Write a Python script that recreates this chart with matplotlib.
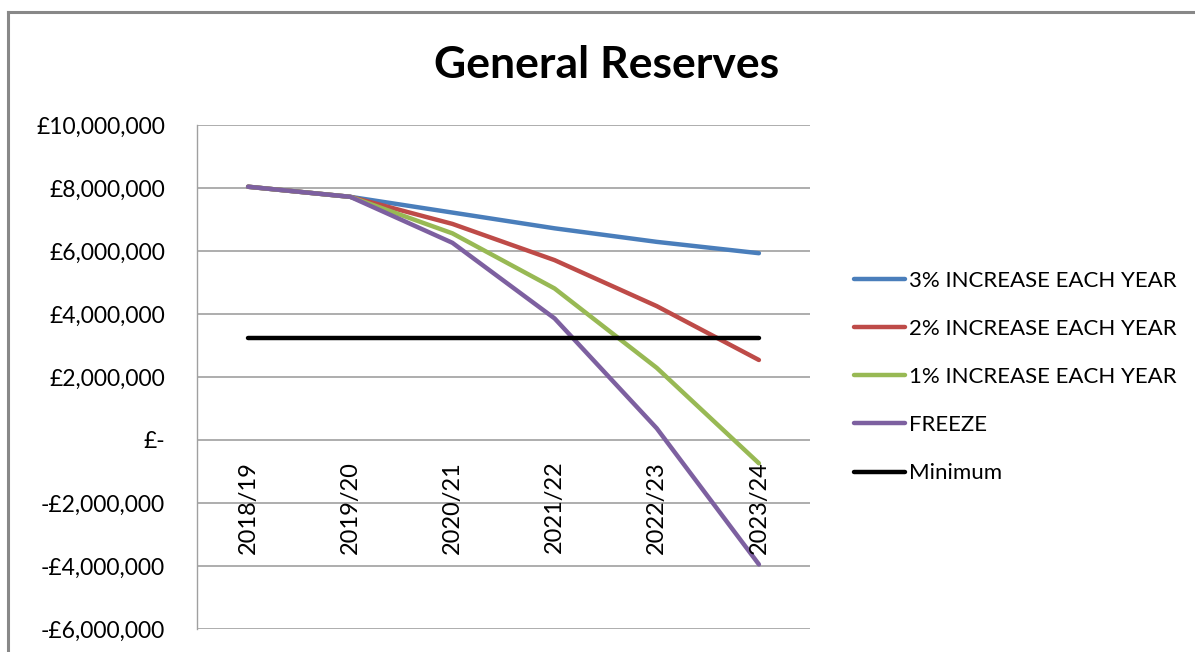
import matplotlib.pyplot as plt
from matplotlib.lines import Line2D
from matplotlib.ticker import FuncFormatter

plt.rcParams['font.family'] = ['Lato', 'DejaVu Sans']

# -------------------------------
# Data
# -------------------------------
years = ["2018/19", "2019/20", "2020/21", "2021/22", "2022/23", "2023/24"]
inc_3pct = [8040000, 7720000, 7220000, 6720000, 6290000, 5930000]
inc_2pct = [8040000, 7720000, 6860000, 5710000, 4250000, 2540000]
inc_1pct = [8040000, 7720000, 6560000, 4810000, 2290000, -740000]
freeze = [8040000, 7720000, 6260000, 3860000, 370000, -3950000]
minimum = [3250000] * 6

series_names = ["3% INCREASE EACH YEAR", "2% INCREASE EACH YEAR",
                "1% INCREASE EACH YEAR", "FREEZE", "Minimum"]
colours = ["#4a7ebb", "#be4b48", "#98b954", "#7d60a0", "#000000"]
y_ticks = [-6000000, -4000000, -2000000, 0, 2000000, 4000000, 6000000, 8000000, 10000000]


def pound(v, pos=None):
    if v == 0:
        return "£-"
    sign = "-" if v < 0 else ""
    return f"{sign}£{abs(v):,.0f}"


fig = plt.figure(figsize=(11.95, 6.52), dpi=100)
ax = fig.add_axes([197/1195, 1-629/652, 613/1195, 504/652])

xs = range(len(years))
for vals, name, c in zip([inc_3pct, inc_2pct, inc_1pct, freeze, minimum], series_names, colours):
    ax.plot(xs, vals, color=c, lw=3.2, label=name, solid_capstyle='round')

ax.set_xlim(-0.5, len(years) - 0.5)
ax.set_ylim(y_ticks[0], y_ticks[-1])
ax.set_yticks(y_ticks)
ax.yaxis.set_major_formatter(FuncFormatter(pound))
ax.tick_params(axis='y', length=0, labelsize=16.5, pad=23)
ax.set_xticks([])
ax.grid(axis='y', color='#a0a0a0', lw=1.2)
ax.set_axisbelow(True)
for s in ax.spines.values():
    s.set_color('#a0a0a0')
    s.set_linewidth(1.0)
ax.spines['top'].set_visible(False)
ax.spines['right'].set_visible(False)
ax.spines['bottom'].set_visible(False)

# category labels sit just below the zero line
for i, yr in enumerate(years):
    ax.annotate(yr, xy=(i, 0), xytext=(0, -15), textcoords='offset points',
                rotation=90, ha='center', va='top', fontsize=17)

fig.text(607/1195, 1-65/652, "General Reserves", ha='center', va='center',
         fontsize=32, fontweight='bold')

ax.legend(loc='center left', bbox_to_anchor=(845/1195, 1-377/652),
          bbox_transform=fig.transFigure, frameon=False, fontsize=16,
          handlelength=2.3, handletextpad=0.2, labelspacing=1.27, borderaxespad=0)

# outer chart border (left and top edges visible)
fig.add_artist(Line2D([8/1195, 8/1195], [0, 1-12/652], color='#888888', lw=2.2,
                      transform=fig.transFigure))
fig.add_artist(Line2D([8/1195, 1], [1-12/652, 1-12/652], color='#888888', lw=2.2,
                      transform=fig.transFigure))

fig.savefig("out.png", dpi=100)
